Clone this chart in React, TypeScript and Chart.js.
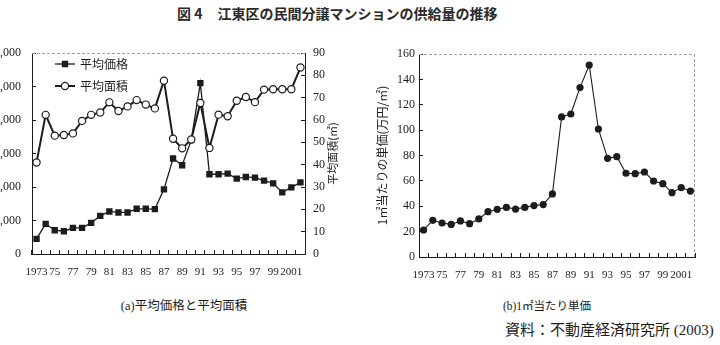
import React, { useEffect, useRef } from 'react';
import { Chart, registerables } from 'chart.js';

Chart.register(...registerables);

// ---- data ----
const years = [
  '1973', '1974', '1975', '1976', '1977', '1978', '1979', '1980', '1981', '1982',
  '1983', '1984', '1985', '1986', '1987', '1988', '1989', '1990', '1991', '1992',
  '1993', '1994', '1995', '1996', '1997', '1998', '1999', '2000', '2001', '2002',
];
const xTickLabels = [
  '1973', '', '75', '', '77', '', '79', '', '81', '', '83', '', '85', '', '87', '',
  '89', '', '91', '', '93', '', '95', '', '97', '', '99', '', '2001', '',
];
const seriesNames = ['平均価格', '平均面積'];
// 平均価格 (万円)
const avgPrice = [
  450, 900, 710, 680, 780, 780, 930, 1140, 1270, 1240,
  1240, 1350, 1350, 1340, 1930, 2850, 2650, 3400, 5100, 2380,
  2380, 2400, 2250, 2300, 2280, 2190, 2110, 1840, 1990, 2140,
];
// 平均面積 (㎡)
const avgArea = [
  41, 62.3, 53, 53.3, 54, 59.6, 62.3, 63.4, 67.9, 64,
  66.1, 68.9, 66.9, 65.2, 77.6, 51.6, 47.3, 51.3, 67.6, 47.5,
  62.4, 61.7, 68.6, 70.3, 68, 73.6, 73.8, 73.8, 73.8, 83.5,
];
// 1㎡当たり単価 (万円/㎡)
const unitPrice = [
  21.3, 28.9, 26.8, 25.7, 28.4, 26.3, 30, 35.7, 37.6, 39.1,
  37.8, 39.1, 40.5, 41.3, 49.7, 110.4, 112.7, 133.5, 151.3, 100.9,
  77.8, 79.1, 66, 65.7, 67, 59.9, 57.8, 50.7, 54.7, 52,
];
const priceAxis = { min: 0, max: 6000, step: 1000 };
const areaAxis = { min: 0, max: 90, step: 10 };
const unitAxis = { min: 0, max: 160, step: 20 };

const titleLeft = '図 4';
const titleRight = '江東区の民間分譲マンションの供給量の推移';
const captionA = '(a)平均価格と平均面積';
const captionB = '(b)1㎡当たり単価';
const sourceText = '資料：不動産経済研究所 (2003)';
const areaAxisTitle = '平均面積(㎡)';
const unitAxisTitle = '1㎡当たりの単価(万円/㎡)';

// ---- styles ----
const INK = '#1c1c1c';
const SERIF = "'Liberation Serif', 'DejaVu Serif', serif";
const JP = "'Noto Sans CJK JP', sans-serif";
const MIX = "'Liberation Serif', 'Noto Sans CJK JP', serif";

const framePlugin = (sides: { top?: boolean; right?: boolean }) => ({
  id: 'dashFrame',
  afterDraw(chart: any) {
    const { ctx, chartArea: a } = chart;
    ctx.save();
    ctx.strokeStyle = '#a0a0a0';
    ctx.lineWidth = 1;
    ctx.setLineDash([3, 2]);
    ctx.beginPath();
    if (sides.top) {
      ctx.moveTo(a.left, Math.round(a.top) + 0.5);
      ctx.lineTo(a.right, Math.round(a.top) + 0.5);
    }
    if (sides.right) {
      ctx.moveTo(Math.round(a.right) - 0.5, a.top);
      ctx.lineTo(Math.round(a.right) - 0.5, a.bottom);
    }
    ctx.stroke();
    ctx.restore();
  },
});

const legendPlugin = {
  id: 'lineLegend',
  afterDraw(chart: any) {
    const { ctx, chartArea: a } = chart;
    const items = [
      { label: seriesNames[0], kind: 'square' },
      { label: seriesNames[1], kind: 'circle' },
    ];
    ctx.save();
    items.forEach((it, i) => {
      const y = a.top + 11 + i * 22;
      const x0 = a.left + 23;
      const x1 = a.left + 43;
      const xm = (x0 + x1) / 2;
      ctx.strokeStyle = INK;
      ctx.lineWidth = it.kind === 'square' ? 1.3 : 2;
      ctx.beginPath();
      ctx.moveTo(x0, y);
      ctx.lineTo(x1, y);
      ctx.stroke();
      if (it.kind === 'square') {
        ctx.fillStyle = INK;
        ctx.fillRect(xm - 3.2, y - 3.2, 6.4, 6.4);
      } else {
        ctx.fillStyle = '#fff';
        ctx.lineWidth = 1.2;
        ctx.beginPath();
        ctx.arc(xm, y, 3.6, 0, Math.PI * 2);
        ctx.fill();
        ctx.stroke();
      }
      ctx.fillStyle = INK;
      ctx.font = `12px ${JP}`;
      ctx.textAlign = 'left';
      ctx.textBaseline = 'middle';
      ctx.fillText(it.label, a.left + 48, y);
    });
    ctx.restore();
  },
};

const rightTitlePlugin = {
  id: 'rightTitle',
  afterDraw(chart: any) {
    const { ctx, chartArea: a } = chart;
    const s = chart.scales.y1;
    ctx.save();
    ctx.translate(s.left + 28, (a.top + a.bottom) / 2);
    ctx.rotate(-Math.PI / 2);
    ctx.fillStyle = INK;
    ctx.font = `11px ${JP}`;
    ctx.textAlign = 'center';
    ctx.textBaseline = 'middle';
    ctx.fillText(areaAxisTitle, 0, 0);
    ctx.restore();
  },
};

const xScale = (height: number) => ({
  type: 'category',
  offset: true,
  grid: { offset: true, drawOnChartArea: false, drawTicks: true, tickLength: -4, color: INK, lineWidth: 1 },
  border: { display: true, color: INK, width: 1 },
  ticks: {
    autoSkip: false,
    maxRotation: 0,
    minRotation: 0,
    padding: 16,
    color: INK,
    font: { family: SERIF, size: 11 },
    callback: (_v: any, i: number) => xTickLabels[i],
  },
  afterFit: (s: any) => { s.height = height; },
});

const yScale = (position: string, ax: { min: number; max: number; step: number }, width: number, padding: number, fmt?: (v: number) => string) => ({
  position,
  min: ax.min,
  max: ax.max,
  grid: { drawOnChartArea: false, drawTicks: true, tickLength: -4, color: INK, lineWidth: 1 },
  border: { display: true, color: INK, width: 1 },
  ticks: {
    stepSize: ax.step,
    padding,
    color: INK,
    font: { family: SERIF, size: 12 },
    callback: (v: any) => (fmt ? fmt(Number(v)) : String(v)),
  },
  afterFit: (s: any) => { s.width = width; },
});

function LeftChart() {
  const ref = useRef<HTMLCanvasElement>(null);
  useEffect(() => {
    if (!ref.current) return;
    const chart = new Chart(ref.current, {
      type: 'line',
      data: {
        labels: years,
        datasets: [
          {
            label: seriesNames[1],
            data: avgArea,
            yAxisID: 'y1',
            borderColor: INK,
            borderWidth: 2,
            pointStyle: 'circle',
            pointRadius: 3.6,
            pointBackgroundColor: '#fff',
            pointBorderColor: INK,
            pointBorderWidth: 1.2,
            tension: 0,
            order: 0,
          },
          {
            label: seriesNames[0],
            data: avgPrice,
            yAxisID: 'y',
            borderColor: INK,
            borderWidth: 1.3,
            pointStyle: 'rect',
            pointRadius: 4.5,
            pointBackgroundColor: INK,
            pointBorderColor: INK,
            pointBorderWidth: 0,
            tension: 0,
            order: 1,
          },
        ],
      },
      options: {
        responsive: false,
        animation: false,
        layout: { padding: { top: 53, left: 0, right: 0, bottom: 0 } },
        plugins: { legend: { display: false }, tooltip: { enabled: false }, title: { display: false } },
        scales: {
          x: xScale(36) as any,
          y: yScale('left', priceAxis, 32, 15, (v) => v.toLocaleString('en-US')) as any,
          y1: yScale('right', areaAxis, 55, 12) as any,
        },
      },
      plugins: [framePlugin({ top: true }), legendPlugin, rightTitlePlugin],
    });
    return () => chart.destroy();
  }, []);
  return (
    <canvas
      ref={ref}
      width={360}
      height={290}
      style={{ position: 'absolute', left: 0, top: 0, width: 360, height: 290 }}
    />
  );
}

function RightChart() {
  const ref = useRef<HTMLCanvasElement>(null);
  useEffect(() => {
    if (!ref.current) return;
    const ys: any = yScale('left', unitAxis, 59, 8);
    ys.title = {
      display: true,
      text: unitAxisTitle,
      color: INK,
      font: { family: JP, size: 12 },
      padding: { top: 14.8, bottom: 0 },
    };
    const chart = new Chart(ref.current, {
      type: 'line',
      data: {
        labels: years,
        datasets: [
          {
            label: '1㎡当たり単価',
            data: unitPrice,
            borderColor: INK,
            borderWidth: 1.1,
            pointStyle: 'circle',
            pointRadius: 3.6,
            pointBackgroundColor: INK,
            pointBorderColor: INK,
            pointBorderWidth: 0,
            tension: 0,
          },
        ],
      },
      options: {
        responsive: false,
        animation: false,
        layout: { padding: { top: 54, left: 0, right: 25, bottom: 0 } },
        plugins: { legend: { display: false }, tooltip: { enabled: false }, title: { display: false } },
        scales: {
          x: xScale(33) as any,
          y: ys,
        },
      },
      plugins: [framePlugin({ top: true, right: true })],
    });
    return () => chart.destroy();
  }, []);
  return (
    <canvas
      ref={ref}
      width={360}
      height={290}
      style={{ position: 'absolute', left: 360, top: 0, width: 360, height: 290 }}
    />
  );
}

export default function App() {
  return (
    <div
      style={{
        position: 'absolute',
        left: 0,
        top: 0,
        width: 720,
        height: 345,
        overflow: 'hidden',
        background: '#fff',
        color: INK,
      }}
    >
      <div
        style={{
          position: 'absolute',
          left: 177,
          top: 6,
          fontFamily: JP,
          fontWeight: 'bold',
          fontSize: 14,
          lineHeight: '14px',
          whiteSpace: 'pre',
          color: '#2a2a2a',
        }}
      >
        <span>{titleLeft}</span>
        <span style={{ marginLeft: 15 }}>{titleRight}</span>
      </div>
      <LeftChart />
      <RightChart />
      <div
        style={{
          position: 'absolute',
          left: 84,
          width: 200,
          top: 299,
          textAlign: 'center',
          fontFamily: MIX,
          fontSize: 12.5,
          lineHeight: '14px',
          whiteSpace: 'pre',
        }}
      >
        {captionA}
      </div>
      <div
        style={{
          position: 'absolute',
          left: 447,
          width: 200,
          top: 299,
          textAlign: 'center',
          fontFamily: MIX,
          fontSize: 11.5,
          lineHeight: '14px',
          whiteSpace: 'pre',
        }}
      >
        {captionB}
      </div>
      <div
        style={{
          position: 'absolute',
          left: 505,
          top: 321,
          fontFamily: MIX,
          fontSize: 15,
          lineHeight: '18px',
          whiteSpace: 'pre',
        }}
      >
        {sourceText}
      </div>
    </div>
  );
}
